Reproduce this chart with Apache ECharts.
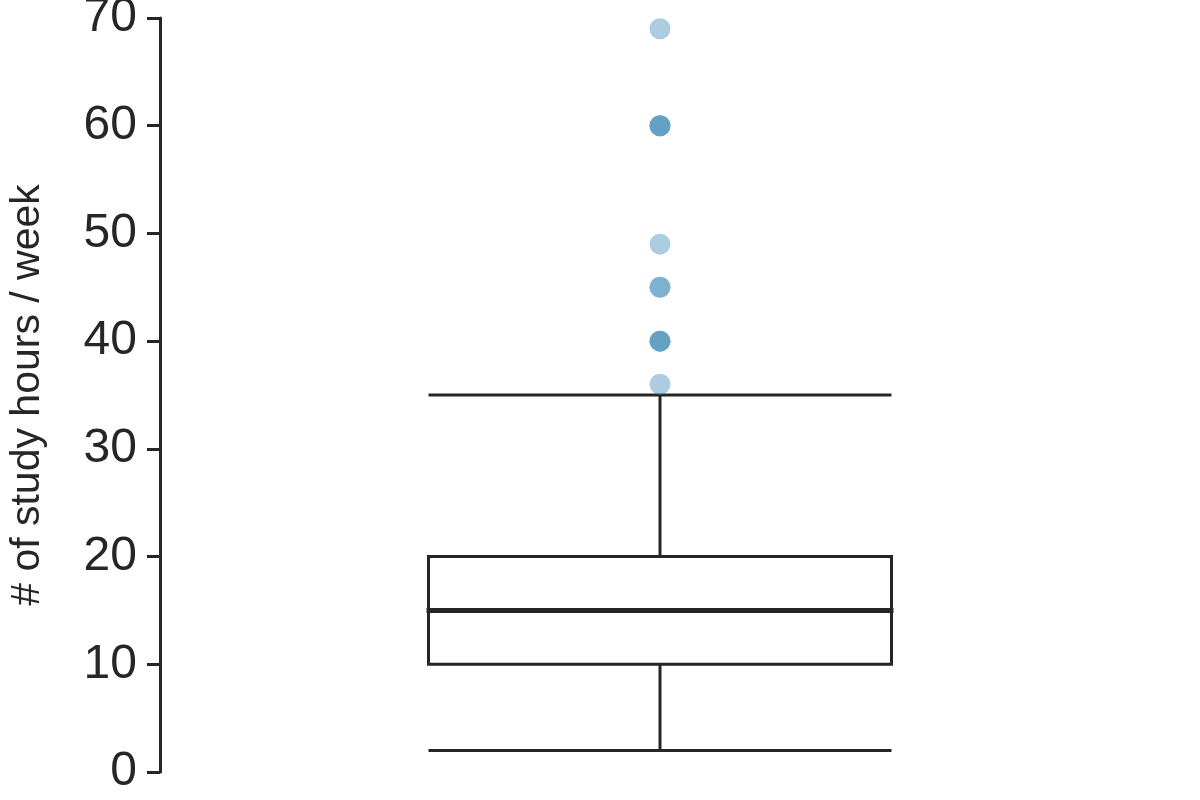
<!DOCTYPE html>
<html>
<head>
<meta charset="utf-8">
<script src="https://cdn.jsdelivr.net/npm/echarts@6/dist/echarts.min.js"></script>
<style>html,body{margin:0;padding:0;background:#fff;}#c{width:1200px;height:800px;}</style>
</head>
<body>
<div id="c"></div>
<script>
var categories = ['study'];
// [min whisker, Q1, median, Q3, max whisker]
var boxStats = [2, 10, 15, 20, 35];
var outlierValues = [36, 40, 45, 49, 60, 69];
var outlierCounts = [1, 3, 2, 1, 3, 1];
var yTicks = [0, 10, 20, 30, 40, 50, 60, 70];

var outlierPoints = [];
outlierValues.forEach(function (v, i) {
  for (var k = 0; k < outlierCounts[i]; k++) outlierPoints.push([0, v]);
});

var BOX_W = 463;
var chart = echarts.init(document.getElementById('c'));
var textColor = '#262626';
chart.setOption({
  animation: false,
  grid: { left: 160, right: 40, top: 18, bottom: 28, containLabel: false, outerBoundsMode: 'none' },
  xAxis: {
    type: 'category', data: categories,
    show: false, boundaryGap: true
  },
  yAxis: {
    type: 'value', min: 0, max: 70, interval: 10,
    name: '# of study hours / week',
    nameLocation: 'middle', nameGap: 112,
    nameTextStyle: { fontSize: 41, color: textColor, fontFamily: 'Liberation Sans' },
    axisLine: { show: true, lineStyle: { color: textColor, width: 3 } },
    axisTick: { show: true, length: 13, lineStyle: { color: textColor, width: 3 } },
    axisLabel: { fontSize: 48, color: textColor, margin: 23, fontFamily: 'Liberation Sans' },
    splitLine: { show: false }
  },
  series: [
    {
      type: 'boxplot',
      data: [boxStats],
      boxWidth: [BOX_W, BOX_W],
      itemStyle: { color: '#fff', borderColor: textColor, borderWidth: 3 },
      silent: true,
      z: 2
    },
    {
      type: 'custom',
      data: [[0, boxStats[2]]],
      renderItem: function (params, api) {
        var p = api.coord([api.value(0), api.value(1)]);
        return {
          type: 'line',
          shape: { x1: p[0] - BOX_W / 2 - 2, y1: p[1], x2: p[0] + BOX_W / 2 + 2, y2: p[1] },
          style: { stroke: textColor, lineWidth: 5 }
        };
      },
      silent: true,
      z: 3
    },
    {
      type: 'scatter',
      data: outlierPoints,
      symbolSize: 21,
      itemStyle: { color: '#4490b8', opacity: 0.45 },
      silent: true,
      z: 4
    }
  ]
});
</script>
</body>
</html>
